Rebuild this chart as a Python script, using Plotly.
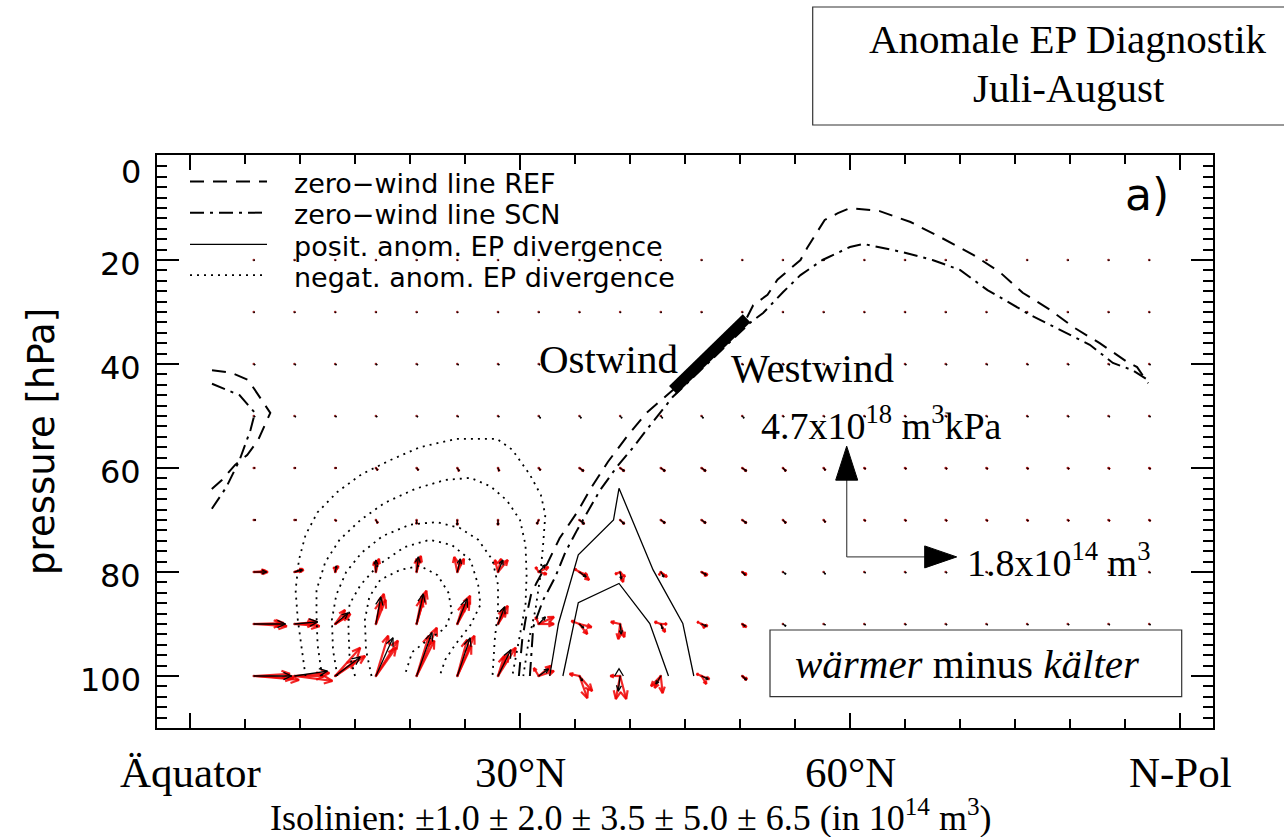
import math
import plotly.graph_objects as go

# ---------------- layout constants ----------------
W, H = 1284, 837
ML, MR, MT, MB = 157, 71, 155, 109
X_RANGE = [-3.0, 93.0]
Y_RANGE = [110.0, -0.19]
PLOT_W = W - ML - MR
PLOT_H = H - MT - MB
PX_LAT = PLOT_W / (X_RANGE[1] - X_RANGE[0])
PX_P = PLOT_H / (Y_RANGE[0] - Y_RANGE[1])

SERIF = "Liberation Serif"
SANS = "DejaVu Sans"

# ---------------- data ----------------
LATS = [5.8, 9.5, 13.2, 16.9, 20.6, 24.3, 28.0, 31.7, 35.4, 39.1, 42.8, 46.5,
        50.2, 53.9, 57.6, 61.3, 65.0, 68.7, 72.4, 76.1, 79.8, 83.5, 87.2]
LEVELS = [20, 30, 40, 50, 60, 70, 80, 90, 100]

# anomalous EP flux (mean): U in 1e14 m^3, V in 1e18 m^3 kPa (positive = upward)
U100 = [0.62, 0.54, 0.41, 0.28, 0.25, 0.21, 0.21, 0.16, 0.05, -0.03, -0.08, 0.11, 0.07, 0.05, 0.03, 0.03, 0.03, 0.03, 0.03, 0.03, 0.03, 0.03, 0.03]
V100 = [0.00, 0.21, 0.81, 1.62, 1.84, 1.62, 1.11, 0.30, -0.21, -0.64, -0.34, -0.13, -0.17, -0.13, -0.09, -0.09, -0.09, -0.09, -0.09, -0.09, -0.09, -0.09, -0.09]
U90 = [0.52, 0.38, 0.21, 0.08, 0.11, 0.16, 0.11, 0.11, 0.07, 0.02, 0.03, 0.08, 0.05, 0.05, 0.03, 0.02, 0.02, 0.02, 0.02, 0.02, 0.02, 0.02, 0.02]
V90 = [0.00, 0.09, 0.47, 1.15, 1.28, 1.07, 0.73, 0.30, -0.17, -0.43, -0.21, -0.09, -0.09, -0.09, -0.04, -0.04, -0.04, -0.04, -0.04, -0.04, -0.04, -0.04, -0.04]
U80 = [0.21, 0.13, 0.02, 0.00, 0.03, 0.05, 0.08, 0.11, 0.11, 0.02, 0.05, 0.08, 0.05, 0.05, 0.03, 0.02, 0.02, 0.02, 0.02, 0.02, 0.02, 0.02, 0.02]
V80 = [0.00, 0.09, 0.26, 0.51, 0.64, 0.56, 0.51, 0.30, -0.21, -0.30, -0.21, -0.13, -0.13, -0.09, -0.09, -0.04, -0.04, -0.04, -0.04, -0.04, -0.04, -0.04, -0.04]
U70 = [0.03, 0.03, 0.02, 0.03, 0.00, 0.00, 0.00, -0.03, 0.08, 0.07, 0.07, 0.07, 0.07, 0.05, 0.03, 0.02, 0.02, 0.02, 0.02, 0.02, 0.02, 0.02, 0.02]
V70 = [0.00, 0.00, -0.04, -0.13, -0.17, -0.21, -0.21, -0.17, -0.17, -0.17, -0.13, -0.13, -0.13, -0.13, -0.09, -0.04, -0.04, -0.04, -0.04, -0.04, -0.04, -0.04, -0.04]
U60 = [0.02, 0.02, 0.02, 0.03, 0.03, 0.03, 0.02, 0.03, 0.07, 0.07, 0.07, 0.07, 0.07, 0.05, 0.03, 0.02, 0.02, 0.02, 0.02, 0.02, 0.02, 0.02, 0.02]
V60 = [0.00, 0.00, 0.00, -0.09, -0.09, -0.13, -0.13, -0.09, -0.13, -0.13, -0.13, -0.13, -0.13, -0.13, -0.09, -0.04, -0.04, -0.04, -0.04, -0.04, -0.04, -0.04, -0.04]
U50 = [0.02, 0.02, 0.02, 0.02, 0.02, 0.02, 0.02, 0.03, 0.03, 0.03, 0.03, 0.03, 0.03, 0.02, 0.02, 0.02, 0.02, 0.02, 0.02, 0.02, 0.02, 0.02, 0.02]
V50 = [-0.04, -0.04, -0.04, -0.04, -0.04, -0.04, -0.04, -0.09, -0.09, -0.09, -0.09, -0.09, -0.09, -0.04, -0.04, -0.04, -0.04, -0.04, -0.04, -0.04, -0.04, -0.04, -0.04]
U40 = [0.02, 0.02, 0.02, 0.02, 0.02, 0.02, 0.02, 0.02, 0.02, 0.02, 0.02, 0.02, 0.02, 0.02, 0.02, 0.02, 0.02, 0.02, 0.02, 0.02, 0.02, 0.02, 0.02]
V40 = [-0.04, -0.04, -0.04, -0.04, -0.04, -0.04, -0.04, -0.04, -0.04, -0.04, -0.04, -0.04, -0.04, -0.04, -0.04, -0.04, -0.04, -0.04, -0.04, -0.04, -0.04, -0.04, -0.04]
U30 = [0.01, 0.01, 0.01, 0.01, 0.01, 0.01, 0.01, 0.01, 0.01, 0.01, 0.01, 0.01, 0.01, 0.01, 0.01, 0.01, 0.01, 0.01, 0.01, 0.01, 0.01, 0.01, 0.01]
V30 = [-0.03, -0.03, -0.03, -0.03, -0.03, -0.03, -0.03, -0.03, -0.03, -0.03, -0.03, -0.03, -0.03, -0.03, -0.03, -0.03, -0.03, -0.03, -0.03, -0.03, -0.03, -0.03, -0.03]
U20 = [0.01, 0.01, 0.01, 0.01, 0.01, 0.01, 0.01, 0.01, 0.01, 0.01, 0.01, 0.01, 0.01, 0.01, 0.01, 0.01, 0.01, 0.01, 0.01, 0.01, 0.01, 0.01, 0.01]
V20 = [-0.02, -0.02, -0.02, -0.02, -0.02, -0.02, -0.02, -0.02, -0.02, -0.02, -0.02, -0.02, -0.02, -0.02, -0.02, -0.02, -0.02, -0.02, -0.02, -0.02, -0.02, -0.02, -0.02]

# individual members (red), lower levels, first 13 latitudes
M_LATS = [5.8, 9.5, 13.2, 16.9, 20.6, 24.3, 28.0, 31.7, 35.4, 39.1, 42.8, 46.5, 50.2]
U100_M1 = [0.74, 0.62, 0.49, 0.36, 0.33, 0.28, 0.29, -0.08, -0.16, -0.07, -0.16, 0.13, 0.07]
V100_M1 = [-0.17, -0.21, 0.85, 1.50, 2.05, 1.71, 1.20, 0.34, 0.09, -0.98, -0.43, -0.13, -0.17]
U100_M2 = [0.65, 0.49, 0.41, 0.20, 0.20, 0.16, 0.16, 0.25, 0.21, 0.10, 0.03, -0.08, 0.03]
V100_M2 = [-0.09, 0.00, 1.20, 1.71, 1.71, 1.54, 0.94, 0.21, -0.64, -0.98, -0.73, 0.09, -0.09]
U100_M3 = [0.59, 0.57, 0.33, 0.33, 0.29, 0.23, 0.10, 0.20, 0.13, -0.16, -0.10, 0.08, 0.08]
V100_M3 = [0.09, 0.13, 0.64, 1.20, 1.50, 1.28, 0.85, 0.43, -0.94, 0.00, -0.51, -0.34, -0.13]
U90_M1 = [0.54, 0.41, 0.25, 0.13, 0.16, 0.21, 0.16, 0.25, -0.13, -0.15, -0.10, 0.10, 0.07]
V90_M1 = [-0.09, -0.09, 0.43, 1.28, 1.41, 1.20, 0.77, 0.30, 0.13, 0.09, 0.09, -0.09, -0.13]
U90_M2 = [0.46, 0.33, 0.16, 0.07, 0.08, 0.10, 0.07, -0.05, 0.20, -0.03, 0.07, -0.07, 0.05]
V90_M2 = [0.00, 0.00, 0.60, 0.94, 1.07, 0.85, 0.60, 0.30, -0.13, -0.64, -0.34, 0.09, -0.09]
U90_M3 = [0.49, 0.36, 0.20, 0.16, 0.13, 0.20, 0.13, 0.25, 0.13, 0.07, 0.10, 0.05, 0.03]
V90_M3 = [0.04, 0.09, 0.34, 1.03, 1.20, 0.94, 0.51, 0.00, -0.43, -0.56, 0.00, -0.17, -0.13]
U80_M1 = [0.23, 0.15, 0.05, 0.05, 0.07, 0.11, 0.16, 0.16, 0.13, -0.08, 0.05, 0.10, 0.07]
V80_M1 = [0.00, 0.09, 0.26, 0.56, 0.68, 0.56, 0.51, 0.21, -0.13, -0.09, -0.13, -0.13, -0.13]
U80_M2 = [0.18, 0.11, -0.02, -0.03, 0.00, -0.05, -0.05, -0.05, -0.08, 0.05, 0.10, 0.07, 0.05]
V80_M2 = [0.00, 0.04, 0.21, 0.43, 0.56, 0.64, 0.51, 0.21, 0.13, -0.43, -0.21, -0.09, -0.09]
U80_M3 = [0.20, 0.13, 0.03, 0.02, 0.05, 0.05, 0.05, 0.13, 0.16, 0.08, -0.03, 0.08, 0.07]
V80_M3 = [0.04, 0.13, 0.17, 0.47, 0.60, 0.47, 0.56, -0.09, -0.34, -0.21, -0.13, -0.17, -0.09]

# reference arrows
REF_U = 1.8   # 1e14 m^3
REF_V = 4.7   # 1e18 m^3 kPa
REF_LEN_LAT = 10.0   # degrees spanned by REF_U
REF_LEN_P = 21.3     # hPa spanned by REF_V
REF_ORIGIN = (59.7, 77.1)

# zero-wind lines (lat, p)
REF_LAT = [29.9, 30.2, 30.5, 31.0, 31.5, 32.5, 33.6, 35.2, 36.5, 38.0, 39.7, 41.5, 43.9, 50.6, 51.2, 52.5, 53.4, 54.5, 55.5, 56.1, 57.0, 57.7, 58.9, 60.0, 62.7, 65.5, 68.2, 71.2, 73.6, 75.7, 78.2, 80.3, 82.7, 85.2, 86.1, 87.1]
REF_P = [100.0, 93.1, 89.2, 84.4, 82.1, 78.3, 73.5, 68.5, 63.7, 58.8, 54.0, 49.4, 45.0, 31.2, 28.7, 26.7, 23.8, 21.9, 20.0, 17.7, 14.8, 12.3, 11.0, 10.0, 10.6, 12.7, 15.6, 19.0, 22.3, 26.3, 29.6, 32.9, 36.0, 39.6, 40.6, 43.7]
SCN_LAT = [30.9, 31.2, 32.1, 33.2, 34.1, 35.2, 36.4, 37.3, 38.8, 40.3, 41.5, 42.7, 43.9, 50.9, 52.1, 53.9, 55.5, 57.5, 60.0, 61.2, 63.0, 64.8, 67.5, 70.0, 72.5, 73.6, 76.4, 79.1, 81.8, 83.9, 85.7, 87.1]
SCN_P = [100.0, 90.6, 85.4, 81.0, 76.3, 71.9, 67.5, 64.2, 59.8, 56.0, 52.7, 49.4, 46.3, 32.1, 30.2, 26.2, 22.9, 20.0, 17.5, 16.9, 17.7, 18.5, 20.0, 21.9, 25.8, 27.1, 30.6, 33.5, 36.3, 39.8, 41.2, 43.1]
REF_W_LAT = [2.0, 3.8, 5.3, 7.3, 6.2, 5.2, 4.1, 2.9, 1.9]
REF_W_P = [41.2, 41.7, 43.1, 49.4, 54.6, 57.5, 59.4, 62.3, 64.2]
SCN_W_LAT = [2.0, 4.5, 5.9, 5.5, 4.5, 3.3, 1.9]
SCN_W_P = [43.8, 46.0, 49.4, 52.7, 58.5, 63.7, 68.1]

# transition bar (Ostwind / Westwind)
BAR_LAT = [43.9, 50.6]
BAR_P = [45.0, 31.2]

# negative anomalous EP divergence isolines (dotted): -1.0, -2.0, -3.5, -5.0, -6.5
NEG1_LAT = [10.5, 10.2, 9.8, 9.6, 9.9, 10.5, 11.6, 13.4, 15.6, 18.2, 20.9, 24.2, 27.9, 29.3, 30.9, 31.9, 32.3, 32.1, 31.8, 31.4, 30.8, 30.3]
NEG1_P = [100.0, 95.0, 89.2, 83.5, 77.7, 72.9, 68.5, 64.6, 61.2, 58.5, 56.0, 54.4, 54.4, 56.5, 61.3, 65.2, 69.0, 74.8, 81.5, 87.3, 93.1, 100.0]
NEG2_LAT = [12.0, 11.6, 11.5, 11.5, 12.3, 13.6, 15.5, 17.7, 20.5, 23.2, 25.5, 27.3, 28.8, 30.0, 30.5, 30.6, 30.5, 30.0, 29.3]
NEG2_P = [100.0, 94.0, 88.3, 83.5, 78.1, 73.8, 70.0, 66.7, 64.0, 62.3, 61.9, 63.5, 66.2, 70.0, 74.8, 80.6, 86.3, 92.1, 100.0]
NEG3_LAT = [13.4, 13.0, 12.9, 13.3, 14.2, 15.6, 17.5, 20.0, 22.4, 24.5, 26.2, 27.5, 28.0, 28.0, 27.7, 27.5]
NEG3_P = [100.0, 95.0, 89.2, 84.4, 80.0, 76.3, 73.1, 70.9, 70.4, 71.5, 73.8, 77.7, 82.5, 87.3, 93.1, 100.0]
NEG4_LAT = [15.0, 14.5, 14.4, 14.5, 15.5, 17.1, 19.5, 21.8, 23.8, 25.5, 26.2, 26.4, 25.5, 24.1, 23.2, 22.7]
NEG4_P = [100.0, 96.0, 90.8, 86.2, 82.5, 78.7, 75.2, 73.8, 74.8, 77.7, 82.5, 86.3, 90.2, 94.0, 96.9, 100.0]
NEG5_LAT = [16.5, 16.0, 15.9, 16.3, 17.3, 19.1, 20.9, 22.5, 23.5, 23.8, 23.2, 21.6, 20.2, 19.5]
NEG5_P = [100.0, 95.0, 89.2, 84.8, 81.5, 79.6, 78.8, 80.6, 84.0, 87.7, 90.8, 93.1, 95.4, 100.0]

# positive anomalous EP divergence isolines (solid)
POS1_LAT = [32.7, 33.5, 35.3, 38.5, 39.0, 40.2, 42.1, 44.8, 45.8]
POS1_P = [100.0, 89.9, 76.7, 70.0, 63.9, 70.0, 79.6, 89.9, 100.0]
POS2_LAT = [33.9, 35.3, 39.0, 41.8, 43.5]
POS2_P = [100.0, 85.9, 82.2, 89.9, 100.0]
POS3_LAT = [38.6, 39.0, 39.4]
POS3_P = [100.0, 98.6, 100.0]

X_TICK_VALS = [0, 30, 60, 90]
X_TICK_TEXT = ["Äquator", "30°N", "60°N", "N-Pol"]
Y_TICK_VALS = [0, 20, 40, 60, 80, 100]

LEGEND_LABELS = ["zero\u2212wind line REF", "zero\u2212wind line SCN",
                 "posit. anom. EP divergence", "negat. anom. EP divergence"]
LEGEND_P = [4.9, 10.9, 17.0, 22.9]

# ---------------- helpers ----------------
DEG_PER_U = REF_LEN_LAT / REF_U
HPA_PER_V = REF_LEN_P / REF_V


def add_arrow(xs, ys, lat, p, u, v, head_max, head_frac=0.4, ang=24):
    dlat = u * DEG_PER_U
    dp = -v * HPA_PER_V
    dxp = dlat * PX_LAT
    dyp = dp * PX_P
    L = math.hypot(dxp, dyp)
    if L < 0.3:
        return
    tl, tp = lat + dlat, p + dp
    xs += [lat, tl, None]
    ys += [p, tp, None]
    hl = min(head_max, head_frac * L)
    bx, by = -dxp / L, -dyp / L
    pts = []
    for s in (1, -1):
        a = math.radians(ang) * s
        rx = bx * math.cos(a) - by * math.sin(a)
        ry = bx * math.sin(a) + by * math.cos(a)
        pts.append((tl + hl * rx / PX_LAT, tp + hl * ry / PX_P))
    xs += [pts[0][0], tl, pts[1][0], None]
    ys += [pts[0][1], tp, pts[1][1], None]


fig = go.Figure()

# grid dots
gx, gy = [], []
for lev in LEVELS:
    for la in LATS:
        gx.append(la)
        gy.append(lev)
fig.add_trace(go.Scatter(x=gx, y=gy, mode="markers",
                         marker=dict(size=2.6, color="#9a2a2a"), hoverinfo="skip"))

# red member arrows
MEMBERS = [
    (100, U100_M1, V100_M1), (100, U100_M2, V100_M2), (100, U100_M3, V100_M3),
    (90, U90_M1, V90_M1), (90, U90_M2, V90_M2), (90, U90_M3, V90_M3),
    (80, U80_M1, V80_M1), (80, U80_M2, V80_M2), (80, U80_M3, V80_M3),
]
rx, ry = [], []
for lev, uu, vv in MEMBERS:
    for la, u, v in zip(M_LATS, uu, vv):
        add_arrow(rx, ry, la, lev, u, v, head_max=9)
fig.add_trace(go.Scatter(x=rx, y=ry, mode="lines",
                         line=dict(color="rgba(240,0,0,0.85)", width=2.2), hoverinfo="skip"))

# small red arrows under tiny mean arrows
MEAN = [(20, U20, V20), (30, U30, V30), (40, U40, V40), (50, U50, V50), (60, U60, V60),
        (70, U70, V70), (80, U80, V80), (90, U90, V90), (100, U100, V100)]
sx, sy = [], []
for lev, uu, vv in MEAN:
    if lev in (60, 70):
        for la, u, v in zip(LATS, uu, vv):
            add_arrow(sx, sy, la, lev, u, v, head_max=4)
fig.add_trace(go.Scatter(x=sx, y=sy, mode="lines",
                         line=dict(color="rgba(220,0,0,0.8)", width=2.2), hoverinfo="skip"))

# black mean arrows
bx_, by_ = [], []
for lev, uu, vv in MEAN:
    for la, u, v in zip(LATS, uu, vv):
        add_arrow(bx_, by_, la, lev, u, v, head_max=9)
fig.add_trace(go.Scatter(x=bx_, y=by_, mode="lines",
                         line=dict(color="black", width=1.3), hoverinfo="skip"))

# dotted negative isolines
for la, pp in [(NEG1_LAT, NEG1_P), (NEG2_LAT, NEG2_P), (NEG3_LAT, NEG3_P),
               (NEG4_LAT, NEG4_P), (NEG5_LAT, NEG5_P)]:
    fig.add_trace(go.Scatter(x=la, y=pp, mode="lines",
                             line=dict(color="black", width=1.8, dash="2px,5px"), hoverinfo="skip"))
# solid positive isolines
for la, pp in [(POS1_LAT, POS1_P), (POS2_LAT, POS2_P), (POS3_LAT, POS3_P)]:
    fig.add_trace(go.Scatter(x=la, y=pp, mode="lines",
                             line=dict(color="black", width=1.3), hoverinfo="skip"))

# zero-wind lines
DASH_REF = "14px,9px"
DASH_SCN = "14px,6px,3px,6px"
for la, pp in [(REF_LAT, REF_P), (REF_W_LAT, REF_W_P)]:
    fig.add_trace(go.Scatter(x=la, y=pp, mode="lines",
                             line=dict(color="black", width=2, dash=DASH_REF), hoverinfo="skip"))
for la, pp in [(SCN_LAT, SCN_P), (SCN_W_LAT, SCN_W_P)]:
    fig.add_trace(go.Scatter(x=la, y=pp, mode="lines",
                             line=dict(color="black", width=2, dash=DASH_SCN), hoverinfo="skip"))

# bar
fig.add_trace(go.Scatter(x=BAR_LAT, y=BAR_P, mode="lines",
                         line=dict(color="black", width=11), hoverinfo="skip"))

# legend samples
LEG_STYLES = [dict(dash=DASH_REF, width=2), dict(dash=DASH_SCN, width=2),
              dict(dash="solid", width=1.3), dict(dash="2px,5px", width=1.8)]
for pl, st in zip(LEGEND_P, LEG_STYLES):
    fig.add_trace(go.Scatter(x=[0.0, 7.0], y=[pl, pl], mode="lines",
                             line=dict(color="black", **st), hoverinfo="skip"))

# reference arrows
o_lat, o_p = REF_ORIGIN
h_tip = o_lat + REF_U * DEG_PER_U
v_tip = o_p - REF_V * HPA_PER_V
fig.add_trace(go.Scatter(x=[o_lat, h_tip - 30 / PX_LAT, None, o_lat, o_lat],
                         y=[o_p, o_p, None, o_p, v_tip + 32 / PX_P], mode="lines",
                         line=dict(color="#555555", width=1.3), hoverinfo="skip"))
fig.add_trace(go.Scatter(x=[h_tip, h_tip - 32 / PX_LAT, h_tip - 32 / PX_LAT, h_tip],
                         y=[o_p, o_p - 11 / PX_P, o_p + 11 / PX_P, o_p],
                         mode="lines", fill="toself", fillcolor="black",
                         line=dict(color="black", width=1), hoverinfo="skip"))
fig.add_trace(go.Scatter(x=[o_lat, o_lat - 11 / PX_LAT, o_lat + 11 / PX_LAT, o_lat],
                         y=[v_tip, v_tip + 34 / PX_P, v_tip + 34 / PX_P, v_tip],
                         mode="lines", fill="toself", fillcolor="black",
                         line=dict(color="black", width=1), hoverinfo="skip"))


def px_x(px):
    return (px - ML) / PLOT_W


def px_y(py):
    return (H - MB - py) / PLOT_H


def txt(**kw):
    d = dict(showarrow=False, xanchor="center", yanchor="middle")
    d.update(kw)
    return d


ann = []
# y tick labels
for tv in Y_TICK_VALS:
    ann.append(txt(x=px_x(143), xref="paper", y=tv, yref="y", xanchor="right",
                   yshift=-16 if tv == 0 else -4, text=str(tv),
                   font=dict(family=SANS, size=32, color="black")))
# x tick labels
for tv, tt in zip(X_TICK_VALS, X_TICK_TEXT):
    ann.append(txt(x=tv, xref="x", y=px_y(772), yref="paper", text=tt,
                   font=dict(family=SERIF, size=43, color="black")))
# axis title
ann.append(txt(x=px_x(41), xref="paper", y=px_y(442), yref="paper", text="pressure [hPa]",
               textangle=-90, font=dict(family=SANS, size=37, color="black")))
# legend texts
for pl, lab in zip(LEGEND_P, LEGEND_LABELS):
    ann.append(txt(x=9.25, xref="x", y=pl, yref="y", yshift=-2, xanchor="left",
                   text=lab, font=dict(family=SANS, size=27, color="black")))
# panel label
ann.append(txt(x=87.0, xref="x", y=7.5, yref="y", text="a)",
               font=dict(family=SANS, size=44, color="black")))
# wind regime labels
ann.append(txt(x=38.0, xref="x", y=39.0, yref="y", text="Ostwind",
               font=dict(family=SERIF, size=41, color="black")))
ann.append(txt(x=56.6, xref="x", y=40.8, yref="y", text="Westwind",
               font=dict(family=SERIF, size=41, color="black")))
# reference arrow labels
ann.append(txt(x=62.9, xref="x", y=51.3, yref="y", text="4.7x10<sup>18</sup> m<sup>3</sup>kPa",
               font=dict(family=SERIF, size=38, color="black")))
ann.append(txt(x=70.45, xref="x", y=77.7, yref="y", xanchor="left",
               text="1.8x10<sup>14</sup> m<sup>3</sup>",
               font=dict(family=SERIF, size=38, color="black")))
# bottom note
ann.append(txt(x=px_x(631), xref="paper", y=px_y(815), yref="paper",
               text="Isolinien: ±1.0 ± 2.0 ± 3.5 ± 5.0 ± 6.5 (in 10<sup>14</sup> m<sup>3</sup>)",
               font=dict(family=SERIF, size=36, color="black")))
# title
ann.append(txt(x=px_x(1068), xref="paper", y=px_y(39), yref="paper", text="Anomale EP Diagnostik",
               font=dict(family=SERIF, size=41, color="black")))
ann.append(txt(x=px_x(1069), xref="paper", y=px_y(88), yref="paper", text="Juli-August",
               font=dict(family=SERIF, size=41, color="black")))
# box label
ann.append(txt(x=px_x(967), xref="paper", y=px_y(664), yref="paper",
               text="<i>wärmer</i> minus <i>kälter</i>",
               font=dict(family=SERIF, size=41, color="black")))

shapes = [
    dict(type="rect", xref="paper", yref="paper", x0=px_x(812.7), x1=px_x(1300), y0=px_y(125), y1=px_y(7),
         line=dict(color="#333333", width=1.2), fillcolor="rgba(0,0,0,0)", layer="above"),
    dict(type="rect", xref="paper", yref="paper", x0=px_x(770), x1=px_x(1181.7), y0=px_y(696.7), y1=px_y(630),
         line=dict(color="#333333", width=1.2), fillcolor="white", layer="above"),
]

fig.update_layout(
    width=W, height=H, margin=dict(l=ML, r=MR, t=MT, b=MB),
    paper_bgcolor="white", plot_bgcolor="white", showlegend=False,
    annotations=ann, shapes=shapes,
    xaxis=dict(range=X_RANGE, showgrid=False, zeroline=False, showline=True, linecolor="black",
               linewidth=2, mirror="ticks", ticks="inside", tickmode="array", tickvals=X_TICK_VALS,
               ticklen=15, tickwidth=1.5, tickcolor="black", showticklabels=False,
               minor=dict(ticks="inside", dtick=5, tick0=0, ticklen=9, tickwidth=1.5, tickcolor="black")),
    yaxis=dict(range=Y_RANGE, showgrid=False, zeroline=False, showline=True, linecolor="black",
               linewidth=2, mirror="ticks", ticks="inside", tickmode="linear", tick0=0, dtick=20,
               ticklen=22, tickwidth=1.5, tickcolor="black", showticklabels=False,
               minor=dict(ticks="inside", dtick=2, tick0=0, ticklen=10, tickwidth=1.5, tickcolor="black")),
)

fig.write_html("out.html")
